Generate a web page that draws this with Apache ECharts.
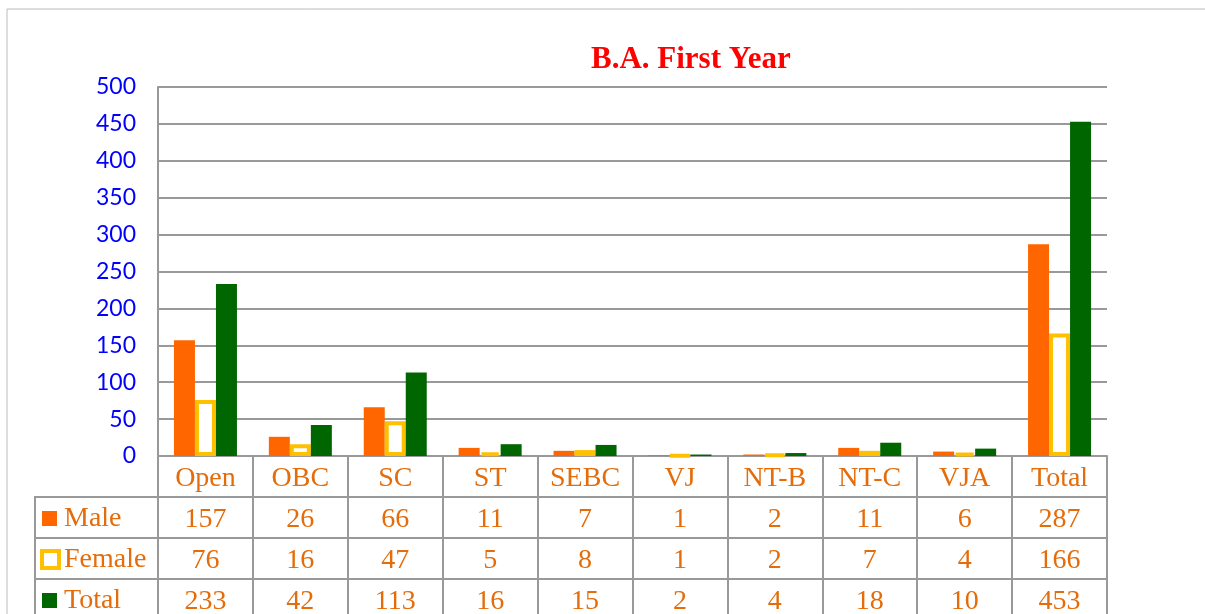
<!DOCTYPE html>
<html>
<head>
<meta charset="utf-8">
<script src="https://cdn.jsdelivr.net/npm/echarts@6/dist/echarts.min.js"></script>
<style>
  html, body { margin: 0; padding: 0; background: #fff; }
  #chart { width: 1205px; height: 614px; }
</style>
</head>
<body>
<div id="chart"></div>
<script>
// 数据
const categories = ["Open", "OBC", "SC", "ST", "SEBC", "VJ", "NT-B", "NT-C", "VJA", "Total"];
const maleData = [157, 26, 66, 11, 7, 1, 2, 11, 6, 287];
const femaleData = [76, 16, 47, 5, 8, 1, 2, 7, 4, 166];
const totalData = [233, 42, 113, 16, 15, 2, 4, 18, 10, 453];
const seriesNames = ["Male", "Female", "Total"];
const yTicks = [0, 50, 100, 150, 200, 250, 300, 350, 400, 450, 500];

const textColor = "#E46C0A";
const lineColor = "#999999";
const serif = "Liberation Serif";
const rowH = 41;

let chart = echarts.init(document.getElementById("chart"));

// 表格行（用偏移的类目轴画数值）
const rowAxis = (values, i) => ({
  type: "category",
  gridIndex: 0,
  position: "bottom",
  offset: rowH * (i + 1),
  data: values.map(String),
  axisLine: { show: true, lineStyle: { color: lineColor, width: 2 } },
  axisTick: { show: false },
  axisLabel: {
    interval: 0,
    margin: 9,
    color: textColor,
    fontFamily: serif,
    fontSize: 28,
  },
});

// 每一行一个图例
const rowLegend = (name, i) => ({
  orient: "vertical",
  left: i === 1 ? 40 : 42,
  top: 457 + rowH * (i + 1),
  padding: 0,
  itemWidth: i === 1 ? 17 : 15,
  itemHeight: i === 1 ? 17 : 15,
  itemGap: 0,
  icon: "rect",
  selectedMode: false,
  data: [name],
  itemStyle: i === 1 ? { borderWidth: 4 } : {},
  textStyle: {
    color: textColor,
    fontFamily: serif,
    fontSize: 28,
    lineHeight: rowH,
    padding: [0, 0, 0, i === 1 ? 0 : 2],
  },
});

let options = {
  animation: false,
  title: {
    text: "B.A. First Year",
    left: 586,
    top: 39,
    textStyle: {
      color: "#FF0000",
      fontFamily: serif,
      fontWeight: "bold",
      fontSize: 31,
    },
  },
  legend: seriesNames.map(rowLegend),
  grid: {
    left: 158,
    right: 98,
    top: 87,
    bottom: 158,
    containLabel: false,
    outerBoundsMode: "none",
  },
  xAxis: [
    {
      type: "category",
      data: categories,
      axisLine: { show: true, lineStyle: { color: lineColor, width: 2 } },
      axisTick: {
        show: true,
        length: rowH * 4,
        lineStyle: { color: lineColor, width: 2 },
      },
      axisLabel: {
        interval: 0,
        margin: 9,
        color: textColor,
        fontFamily: serif,
        fontSize: 28,
      },
    },
    rowAxis(maleData, 0),
    rowAxis(femaleData, 1),
    rowAxis(totalData, 2),
  ],
  yAxis: {
    type: "value",
    min: yTicks[0],
    max: yTicks[yTicks.length - 1],
    interval: yTicks[1] - yTicks[0],
    axisLine: { show: true, lineStyle: { color: lineColor, width: 2 } },
    axisTick: { show: false },
    axisLabel: {
      margin: 22,
      color: "#0000FF",
      fontFamily: "Lato",
      fontSize: 23,
    },
    splitLine: { lineStyle: { color: lineColor, width: 2 } },
  },
  series: [
    {
      name: seriesNames[0],
      type: "bar",
      barWidth: 21,
      barGap: "0%",
      itemStyle: { color: "#FF6600" },
      data: maleData,
    },
    {
      name: seriesNames[1],
      type: "bar",
      barWidth: 21,
      barGap: "0%",
      itemStyle: { color: "#FFFFFF", borderColor: "#FFC000", borderWidth: 4 },
      data: femaleData,
    },
    {
      name: seriesNames[2],
      type: "bar",
      barWidth: 21,
      barGap: "0%",
      itemStyle: { color: "#006600" },
      data: totalData,
    },
  ],
  // 外框和表头左列的线
  graphic: [
    {
      type: "polyline",
      shape: { points: [[7, 614], [7, 9], [1205, 9]] },
      style: { stroke: "#BBBBBB", lineWidth: 1, fill: null },
      silent: true,
    },
    {
      type: "polyline",
      shape: { points: [[158, 497], [35, 497], [35, 614]] },
      style: { stroke: lineColor, lineWidth: 2, fill: null },
      silent: true,
    },
    {
      type: "line",
      shape: { x1: 35, y1: 538, x2: 158, y2: 538 },
      style: { stroke: lineColor, lineWidth: 2 },
      silent: true,
    },
    {
      type: "line",
      shape: { x1: 35, y1: 579, x2: 158, y2: 579 },
      style: { stroke: lineColor, lineWidth: 2 },
      silent: true,
    },
  ],
};

chart.setOption(options);
</script>
</body>
</html>
